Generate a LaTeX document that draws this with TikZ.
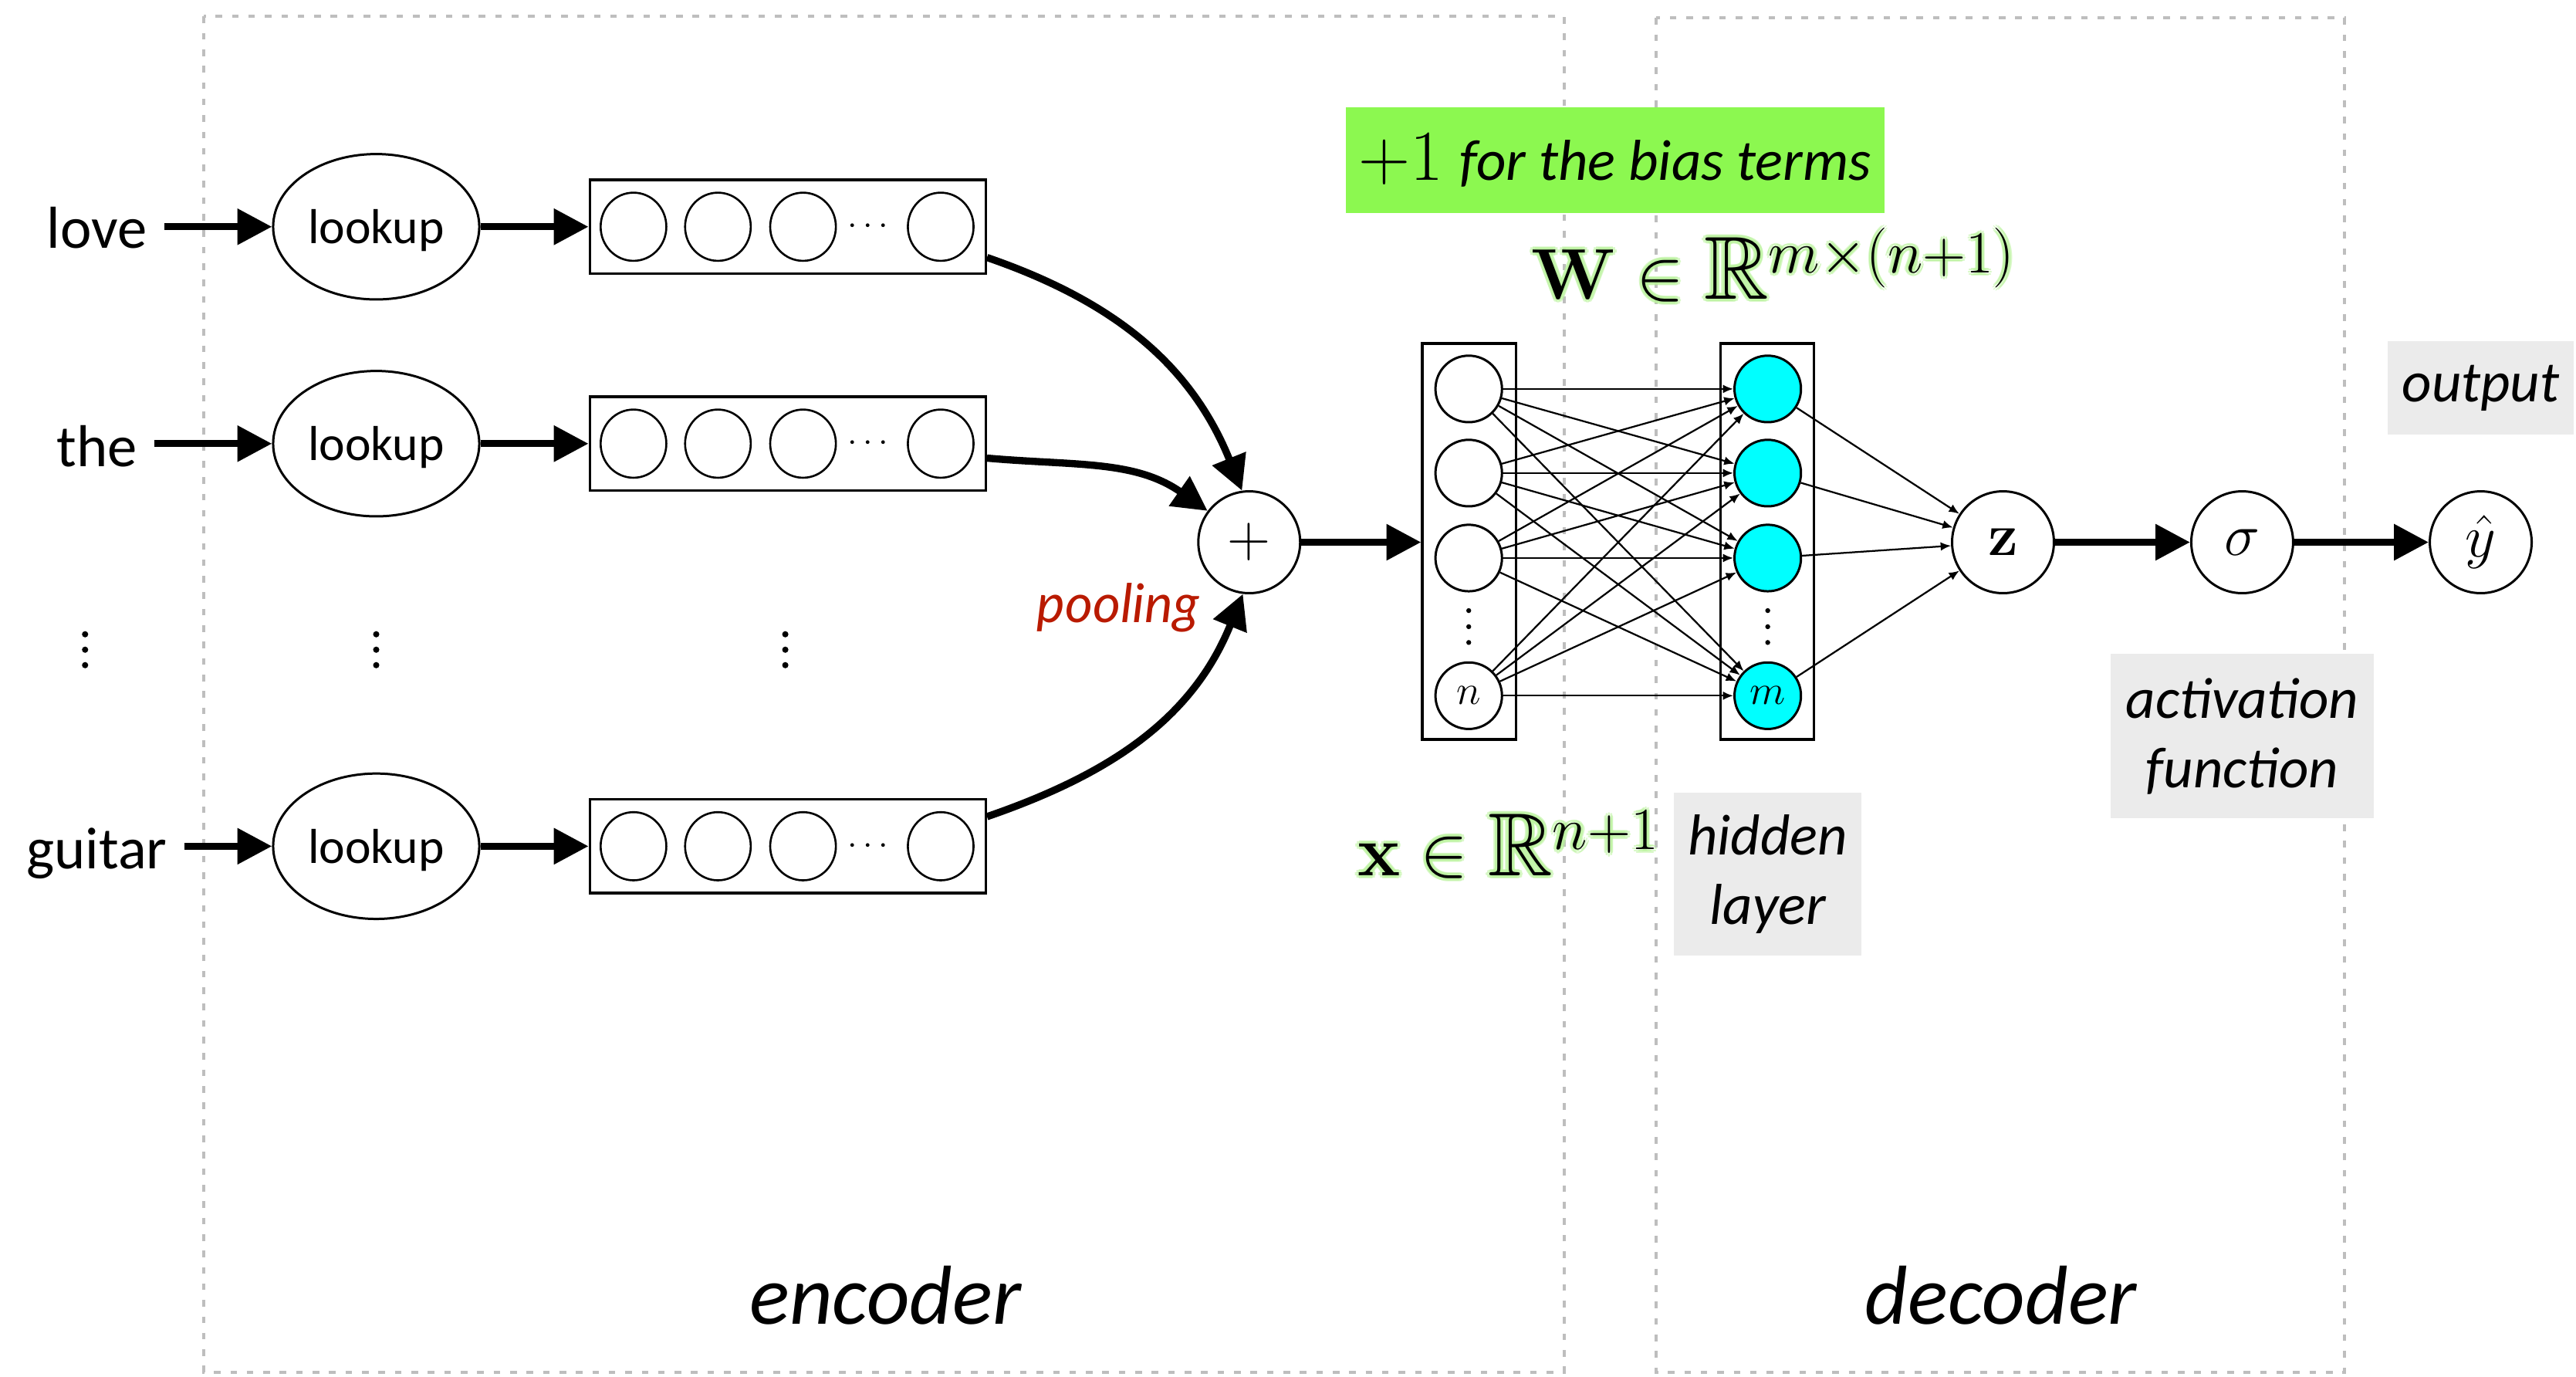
\documentclass[tikz,border=0pt]{standalone}
\usepackage{amsmath,amssymb}
\usepackage[no-math]{fontspec}
\setmainfont{Carlito}
\newfontfamily\latofont{Lato}
\usetikzlibrary{arrows.meta,shapes.geometric,calc}
\newcommand\fsz[2]{\fontsize{#1}{#2}\selectfont}
\definecolor{biasgreen}{RGB}{140,248,80}
\definecolor{labelgray}{RGB}{235,235,235}
\definecolor{framegray}{RGB}{190,190,190}
\definecolor{poolred}{RGB}{185,26,0}
\definecolor{unitcyan}{RGB}{0,255,255}
\definecolor{glowgreen}{RGB}{185,242,155}
\begin{document}
\begin{tikzpicture}[x=0.02cm,y=0.02cm,
  frame/.style={draw=framegray,line width=1.1pt,dash pattern=on 2.3pt off 3.4pt},
  bigarrow/.style={line width=2.5pt,-{Triangle[length=12pt,width=12pt]}},
  netarrow/.style={line width=0.6pt,-{Latex[length=3.6pt,width=3pt]}},
  word/.style={font=\fsz{20.5pt}{24pt},inner xsep=5.7pt,inner ysep=0pt,anchor=base},
  lookupnode/.style={ellipse,draw,line width=0.8pt,inner sep=0pt,text depth=0pt,minimum width=2.51cm,minimum height=1.77cm,font=\fsz{17pt}{20pt}},
  vecbox/.style={rectangle,draw,line width=0.9pt,minimum width=4.82cm,minimum height=1.14cm,inner sep=0pt},
  cell/.style={ellipse,draw,line width=0.7pt,minimum width=0.8cm,minimum height=0.83cm,inner sep=0pt},
  layerbox/.style={rectangle,draw,line width=0.9pt,minimum width=1.14cm,minimum height=4.82cm,inner sep=0pt},
  neuron/.style={circle,draw,line width=0.8pt,minimum size=0.81cm,inner sep=0pt,font=\fsz{14pt}{16pt}},
  hneuron/.style={neuron,fill=unitcyan},
  opnode/.style={circle,draw,line width=0.8pt,minimum size=1.24cm,inner sep=0pt,font=\fsz{22pt}{24pt}},
  graylabel/.style={fill=labelgray,inner sep=0pt,align=center,font=\itshape\fsz{20pt}{24pt}},
  bigmath/.style={anchor=base west,inner sep=0pt,font=\fsz{31pt}{36pt}},
  halo/.style={bigmath,text=glowgreen,opacity=0.55},
  bigital/.style={anchor=base,font=\itshape\fsz{29pt}{34pt}},
]
\useasboundingbox (0,0) rectangle (1568,-838);

% encoder / decoder frames
\draw[frame] (124,-10) rectangle (952,-835);
\draw[frame] (1008,-11) rectangle (1427,-835);
\node[bigital] (enc) at (539,-806) {encoder};
\node[bigital] (dec) at (1218,-806) {decoder};

% bias note
\node[fill=biasgreen,minimum width=6.56cm,minimum height=1.28cm,inner sep=0pt] (bias) at (983,-97.5)
  {\fsz{25pt}{28pt}$+1$ \itshape\fsz{20pt}{24pt}for the bias terms};

% word -> lookup -> embedding rows
\foreach \w/\k/\r/\b in {love/1/138/151, the/2/270/284, guitar/3/515/528.5} {
  \node[word] (w\k) at (59,-\b) {\w};
  \node[lookupnode] (l\k) at (229,-\r) {lookup};
  \node[vecbox] (v\k) at (479.5,-\r) {};
  \foreach \cx [count=\j] in {385.6,437,488.8,572.6}
    \node[cell] (c\k\j) at (\cx,-\r) {};
  \node[font=\fsz{12pt}{14pt},inner sep=0pt] (dd\k) at (530,-\r) {$\cdots$};
  \draw[bigarrow] (w\k.east |- l\k) -- (l\k);
  \draw[bigarrow] (l\k) -- (v\k);
}
\foreach \x in {51.8,229,478}
  \foreach \y in {386,395.4,404.8}
    \fill (\x,-\y) circle (1.9);

% pooling
\node[opnode,font=\fsz{21pt}{24pt}] (plus) at (760.4,-330) {$+$};
\draw[bigarrow] ($(v1.east)+(0,-18.7)$) to[out=-19,in=112] (plus.98);
\draw[bigarrow] ($(v2.east)+(0,-8.8)$) to[out=-5,in=145] (plus.143);
\draw[bigarrow] ($(v3.east)+(0,18)$) to[out=19,in=-112] (plus.263);
\node[anchor=base,inner sep=0pt,font=\latofont\itshape\fsz{18.5pt}{22pt},text=poolred] (pool) at (680.6,-379) {pooling};

% input layer
\node[layerbox] (inbox) at (894.3,-329.5) {};
\node[neuron] (i1) at (894,-236.7) {};
\node[neuron] (i2) at (894,-287.9) {};
\node[neuron] (i3) at (894,-339.6) {};
\node[neuron] (i4) at (894,-423.4) {$n$};
% hidden layer
\node[layerbox] (hidbox) at (1075.7,-329.5) {};
\node[hneuron] (h1) at (1076,-236.7) {};
\node[hneuron] (h2) at (1076,-287.9) {};
\node[hneuron] (h3) at (1076,-339.6) {};
\node[hneuron] (h4) at (1076,-423.4) {$m$};
\foreach \x in {894,1076}
  \foreach \y in {371.6,381.4,391}
    \fill (\x,-\y) circle (1.5);

\draw[bigarrow] (plus) -- (plus -| inbox.west);
\foreach \a in {i1,i2,i3,i4}
  \foreach \b in {h1,h2,h3,h4}
    \draw[netarrow] (\a) -- (\b);

% output chain
\node[opnode] (z) at (1219.2,-330) {$\mathbf{z}$};
\node[opnode] (sig) at (1364.8,-330) {$\sigma$};
\node[opnode] (yhat) at (1510,-330) {$\hat{y}$};
\foreach \b in {h1,h2,h3,h4}
  \draw[netarrow] (\b) -- (z);
\draw[bigarrow] (z) -- (sig);
\draw[bigarrow] (sig) -- (yhat);

% gray captions
\node[graylabel,minimum width=2.28cm,minimum height=1.98cm] (hid) at (1076,-532) {hidden\\layer};
\node[graylabel,minimum width=3.21cm,minimum height=2.0cm] (act) at (1364.9,-448) {activation\\function};
\node[graylabel,minimum width=2.27cm,minimum height=1.13cm] (out) at (1510,-236) {output};

% dimension labels, each on a soft green halo
\foreach \a [count=\k] in {0,45,...,315} {
  \node[halo] (wglow\k) at ($(932,-182)+(\a:2)$) {$\mathbf{W}\in\mathbb{R}^{m\times(n+1)}$};
  \node[halo] (xglow\k) at ($(826,-533)+(\a:2)$) {$\mathbf{x}\in\mathbb{R}^{n+1}$};
}
\node[bigmath] (wlabel) at (932,-182) {$\mathbf{W}\in\mathbb{R}^{m\times(n+1)}$};
\node[bigmath] (xlabel) at (826,-533) {$\mathbf{x}\in\mathbb{R}^{n+1}$};
\end{tikzpicture}
\end{document}
